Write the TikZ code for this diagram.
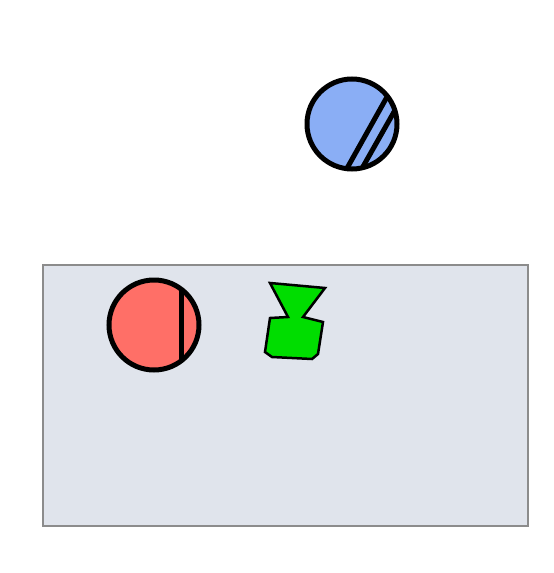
\documentclass[tikz,border=0pt]{standalone}
\begin{document}
\begin{tikzpicture}[x=1pt,y=-1pt,
  disk/.style={line width=5pt,draw=black},
  chord/.style={line width=5pt,draw=black},
  panel/.style={draw=black!45,line width=2.2pt,fill=panelfill}]
\definecolor{panelfill}{HTML}{E0E4EC}
\definecolor{redfill}{HTML}{FF6F67}
\definecolor{bluefill}{HTML}{8AAEF5}
\definecolor{greenfill}{HTML}{00DD00}
\useasboundingbox (0,0) rectangle (554,573);
\node[panel,minimum width=485pt,minimum height=261pt,inner sep=0pt] (panel) at (285.5,395.5) {};
% red circle
\begin{scope}
\clip (154,325) circle (45);
\fill[redfill] (154,325) circle (45);
\draw[chord] (181,270) -- (181,380);
\end{scope}
\draw[disk] (154,325) circle (45);
\coordinate (redc) at (154,325);
% blue circle
\begin{scope}
\clip (352,124) circle (45);
\fill[bluefill] (352,124) circle (45);
\draw[chord] (341,179) -- (392,88);
\draw[chord] (356,179) -- (403,96);
\end{scope}
\draw[disk] (352,124) circle (45);
\coordinate (bluec) at (352,124);
% green shape
\draw[fill=greenfill,line width=2.5pt,line join=miter] (270,283) -- (325,288) -- (303,317) -- (323,322) -- (318,354) -- (312,359) -- (272,357) -- (265,352) -- (270,318) -- (288,317) -- cycle;
\end{tikzpicture}
\end{document}
